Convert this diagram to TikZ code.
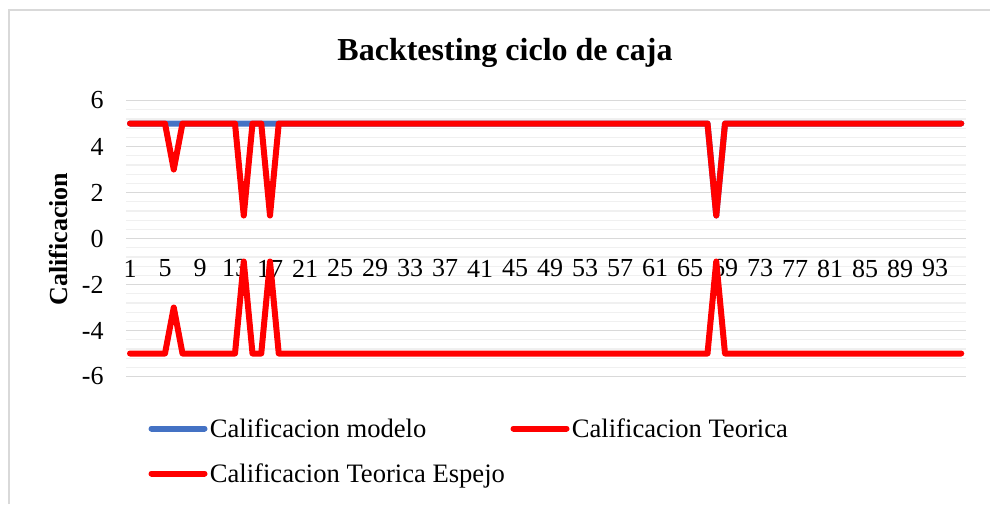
\documentclass[tikz,border=0pt]{standalone}
\usepackage{fontspec}
\setmainfont{Liberation Serif}
\definecolor{modelblue}{HTML}{4472C4}
\definecolor{gridmajor}{HTML}{D9D9D9}
\definecolor{gridminor}{HTML}{F0F0F0}
\tikzset{
    serie/.style = {line width = 3pt, line join = round, line cap = round},
    ticklabel/.style = {font = \fontsize{13}{15}\selectfont, inner sep = 0pt},
    leyenda/.style = {font = \fontsize{13.3}{15}\selectfont, inner sep = 0pt, anchor = base west},
    titulo/.style = {font = \fontsize{16}{19}\selectfont\bfseries, inner sep = 0pt, anchor = base},
    ejetitulo/.style = {font = \fontsize{13}{15}\selectfont\bfseries, inner sep = 0pt, rotate = 90}
}

\begin{document}
\begin{tikzpicture}[x = 0.5pt, y = -0.5pt]
            \useasboundingbox (0,0) rectangle (990,504);
            \draw[gridmajor, line width = 0.75pt] (9,504) -- (9,10) -- (990,10);
            \node[titulo] (T) at (505,60) {Backtesting ciclo de caja};
            \foreach \k in {0,...,30}
                \draw[gridminor, line width = 0.6pt] (126,{100.5 + 9.2*\k}) -- (966,{100.5 + 9.2*\k});
            \foreach \v in {6,4,...,-6} {
                \draw[gridmajor, line width = 0.75pt] (126,{238.5 - 23*\v}) -- (966,{238.5 - 23*\v});
                \node[ticklabel, anchor = east] (ytick\v) at (104,{238.5 - 23*\v}) {\v};
            }
            \foreach \i in {1,5,...,93}
                \node[ticklabel] (xtick\i) at ({130 + 8.75*(\i - 1)},268.5) {\i};
            \node[ejetitulo] (Y) at (58.5,239) {Calificacion};
            \begin{scope}[shift = {(65pt,-119.25pt)}, x = 4.375pt, y = 11.5pt]
                \draw[serie, modelblue] (0,5) -- (66,5) -- (67,1) -- (68,5) -- (95,5);
                \draw[serie, red] (0,5) -- (4,5) -- (5,3) -- (6,5) -- (12,5) -- (13,1) -- (14,5) -- (15,5) -- (16,1) -- (17,5) -- (66,5) -- (67,1) -- (68,5) -- (95,5);
                \draw[serie, red] (0,-5) -- (4,-5) -- (5,-3) -- (6,-5) -- (12,-5) -- (13,-1) -- (14,-5) -- (15,-5) -- (16,-1) -- (17,-5) -- (66,-5) -- (67,-1) -- (68,-5) -- (95,-5);
            \end{scope}
            \node[leyenda] (Lmodelo) at (209.5,437.5) {Calificacion modelo};
            \node[leyenda] (Lteorica) at (571.5,437.5) {Calificacion Teorica};
            \node[leyenda] (Lespejo) at (209.5,482.5) {Calificacion Teorica Espejo};
            \draw[serie, modelblue] ([xshift = -2.5pt, yshift = 4.5pt]Lmodelo.base west) -- ++(-53,0);
            \draw[serie, red] ([xshift = -2.5pt, yshift = 4.5pt]Lteorica.base west) -- ++(-53,0);
            \draw[serie, red] ([xshift = -2.5pt, yshift = 4.5pt]Lespejo.base west) -- ++(-53,0);
        \end{tikzpicture}
\end{document}
